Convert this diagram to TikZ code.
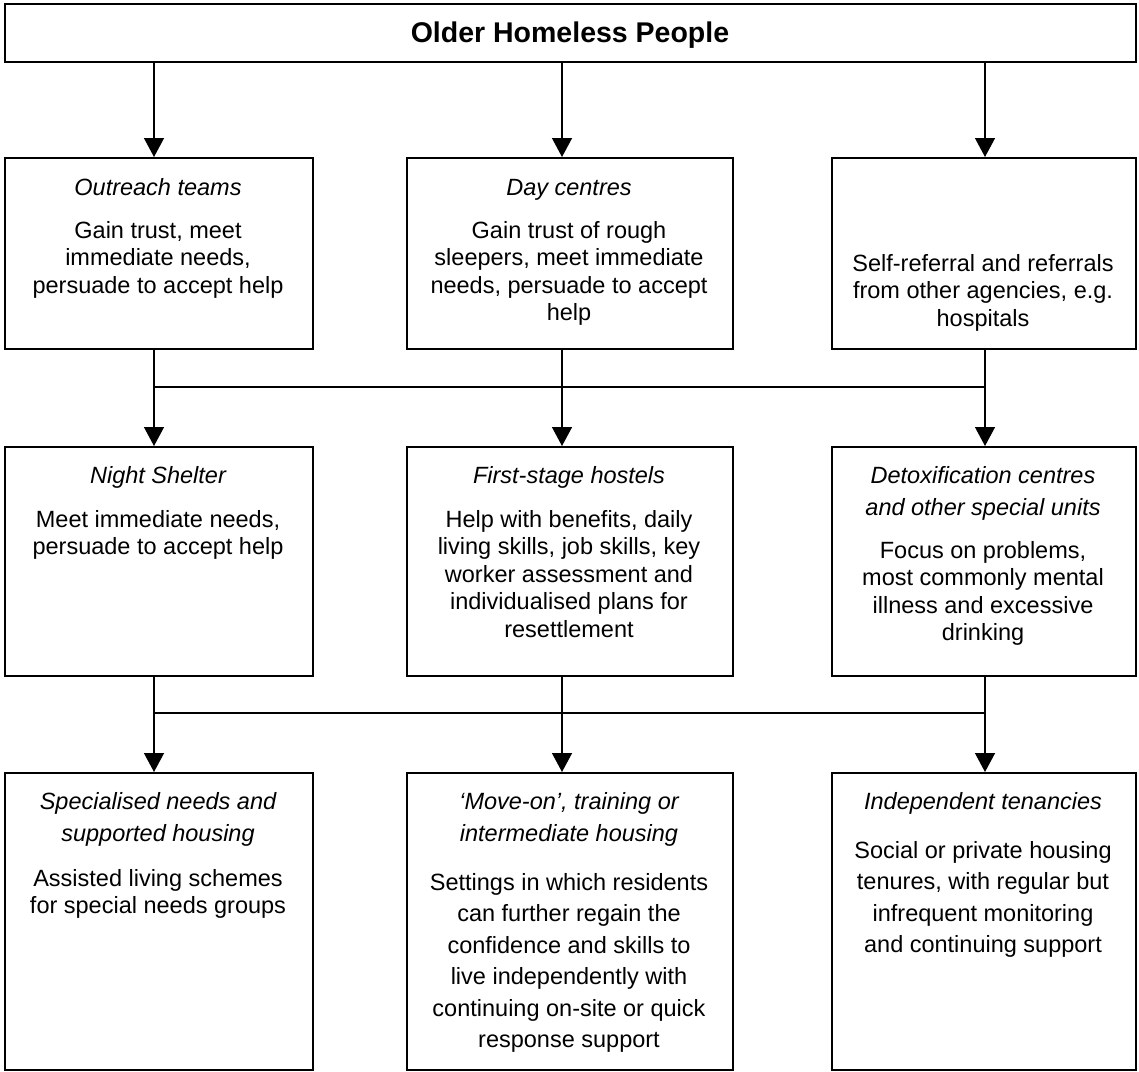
\documentclass[tikz,border=0pt]{standalone}
\usepackage{fontspec}
\setmainfont{Liberation Sans}
\usetikzlibrary{arrows.meta}
\begin{document}
\begin{tikzpicture}[x=1pt,y=-1pt,
  box/.style={draw, line width=1.8pt, inner sep=0pt, anchor=north west},
  conn/.style={line width=1.4pt},
  arr/.style={line width=1.4pt, -{Triangle[length=19pt,width=20pt]}},
  hd/.style={font=\itshape\fontsize{23.5}{32}\selectfont, align=center, anchor=base, inner sep=0pt},
  bd/.style={font=\fontsize{23.5}{27.5}\selectfont, align=center, anchor=base, inner sep=0pt},
  bdw/.style={bd, font=\fontsize{23.5}{31.5}\selectfont},
]
\useasboundingbox (0,0) rectangle (1139,1071);
% column coordinates
\coordinate (c1) at (154,0);
\coordinate (c2) at (562,0);
\coordinate (c3) at (985,0);
% boxes
\node[box, minimum width=1131pt, minimum height=58pt] (top) at (4,3) {};
\node[box, minimum width=308pt, minimum height=191pt] (r1a) at (4,157) {};
\node[box, minimum width=326pt, minimum height=191pt] (r1b) at (406,157) {};
\node[box, minimum width=304pt, minimum height=191pt] (r1c) at (831,157) {};
\node[box, minimum width=308pt, minimum height=229pt] (r2a) at (4,446) {};
\node[box, minimum width=326pt, minimum height=229pt] (r2b) at (406,446) {};
\node[box, minimum width=304pt, minimum height=229pt] (r2c) at (831,446) {};
\node[box, minimum width=308pt, minimum height=297pt] (r3a) at (4,772) {};
\node[box, minimum width=326pt, minimum height=297pt] (r3b) at (406,772) {};
\node[box, minimum width=304pt, minimum height=297pt] (r3c) at (831,772) {};
% texts (anchor base = baseline of the last line)
\node[font=\bfseries\fontsize{28.5}{34}\selectfont, anchor=base, inner sep=0pt] (tt) at (570,42) {Older Homeless People};
\node[hd] (t1a) at (158,195) {Outreach teams};
\node[bd] (d1a) at (158,293) {Gain trust, meet\\immediate needs,\\persuade to accept help};
\node[hd] (t1b) at (569,195) {Day centres};
\node[bd] (d1b) at (569,320.5) {Gain trust of rough\\sleepers, meet immediate\\needs, persuade to accept\\help};
\node[bd] (d1c) at (983,326) {Self-referral and referrals\\from other agencies, e.g.\\hospitals};
\node[hd] (t2a) at (158,483) {Night Shelter};
\node[bd] (d2a) at (158,554.5) {Meet immediate needs,\\persuade to accept help};
\node[hd] (t2b) at (569,483) {First-stage hostels};
\node[bd] (d2b) at (569,637) {Help with benefits, daily\\living skills, job skills, key\\worker assessment and\\individualised plans for\\resettlement};
\node[hd] (t2c) at (983,515) {Detoxification centres\\and other special units};
\node[bd] (d2c) at (983,640.5) {Focus on problems,\\most commonly mental\\illness and excessive\\drinking};
\node[hd] (t3a) at (158,841) {Specialised needs and\\supported housing};
\node[bd] (d3a) at (158,913.5) {Assisted living schemes\\for special needs groups};
\node[hd] (t3b) at (569,841) {‘Move-on’, training or\\intermediate housing};
\node[bdw] (d3b) at (569,1047.5) {Settings in which residents\\can further regain the\\confidence and skills to\\live independently with\\continuing on-site or quick\\response support};
\node[hd] (t3c) at (983,809) {Independent tenancies};
\node[bdw] (d3c) at (983,952.5) {Social or private housing\\tenures, with regular but\\infrequent monitoring\\and continuing support};
% connectors: top to row 1
\draw[arr] (top.south -| c1) -- (r1a.north -| c1);
\draw[arr] (top.south -| c2) -- (r1b.north -| c2);
\draw[arr] (top.south -| c3) -- (r1c.north -| c3);
% row 1 to row 2
\coordinate (j1a) at (154,387);
\coordinate (j1b) at (562,387);
\coordinate (j1c) at (985,387);
\draw[conn] (r1a.south -| c1) -- (j1a);
\draw[conn] (r1b.south -| c2) -- (j1b);
\draw[conn] (r1c.south -| c3) -- (j1c);
\draw[conn] (j1a) -- (j1c);
\draw[arr] (j1a) -- (r2a.north -| c1);
\draw[arr] (j1b) -- (r2b.north -| c2);
\draw[arr] (j1c) -- (r2c.north -| c3);
% row 2 to row 3
\coordinate (j2a) at (154,713);
\coordinate (j2b) at (562,713);
\coordinate (j2c) at (985,713);
\draw[conn] (r2a.south -| c1) -- (j2a);
\draw[conn] (r2b.south -| c2) -- (j2b);
\draw[conn] (r2c.south -| c3) -- (j2c);
\draw[conn] (j2a) -- (j2c);
\draw[arr] (j2a) -- (r3a.north -| c1);
\draw[arr] (j2b) -- (r3b.north -| c2);
\draw[arr] (j2c) -- (r3c.north -| c3);
\end{tikzpicture}
\end{document}
